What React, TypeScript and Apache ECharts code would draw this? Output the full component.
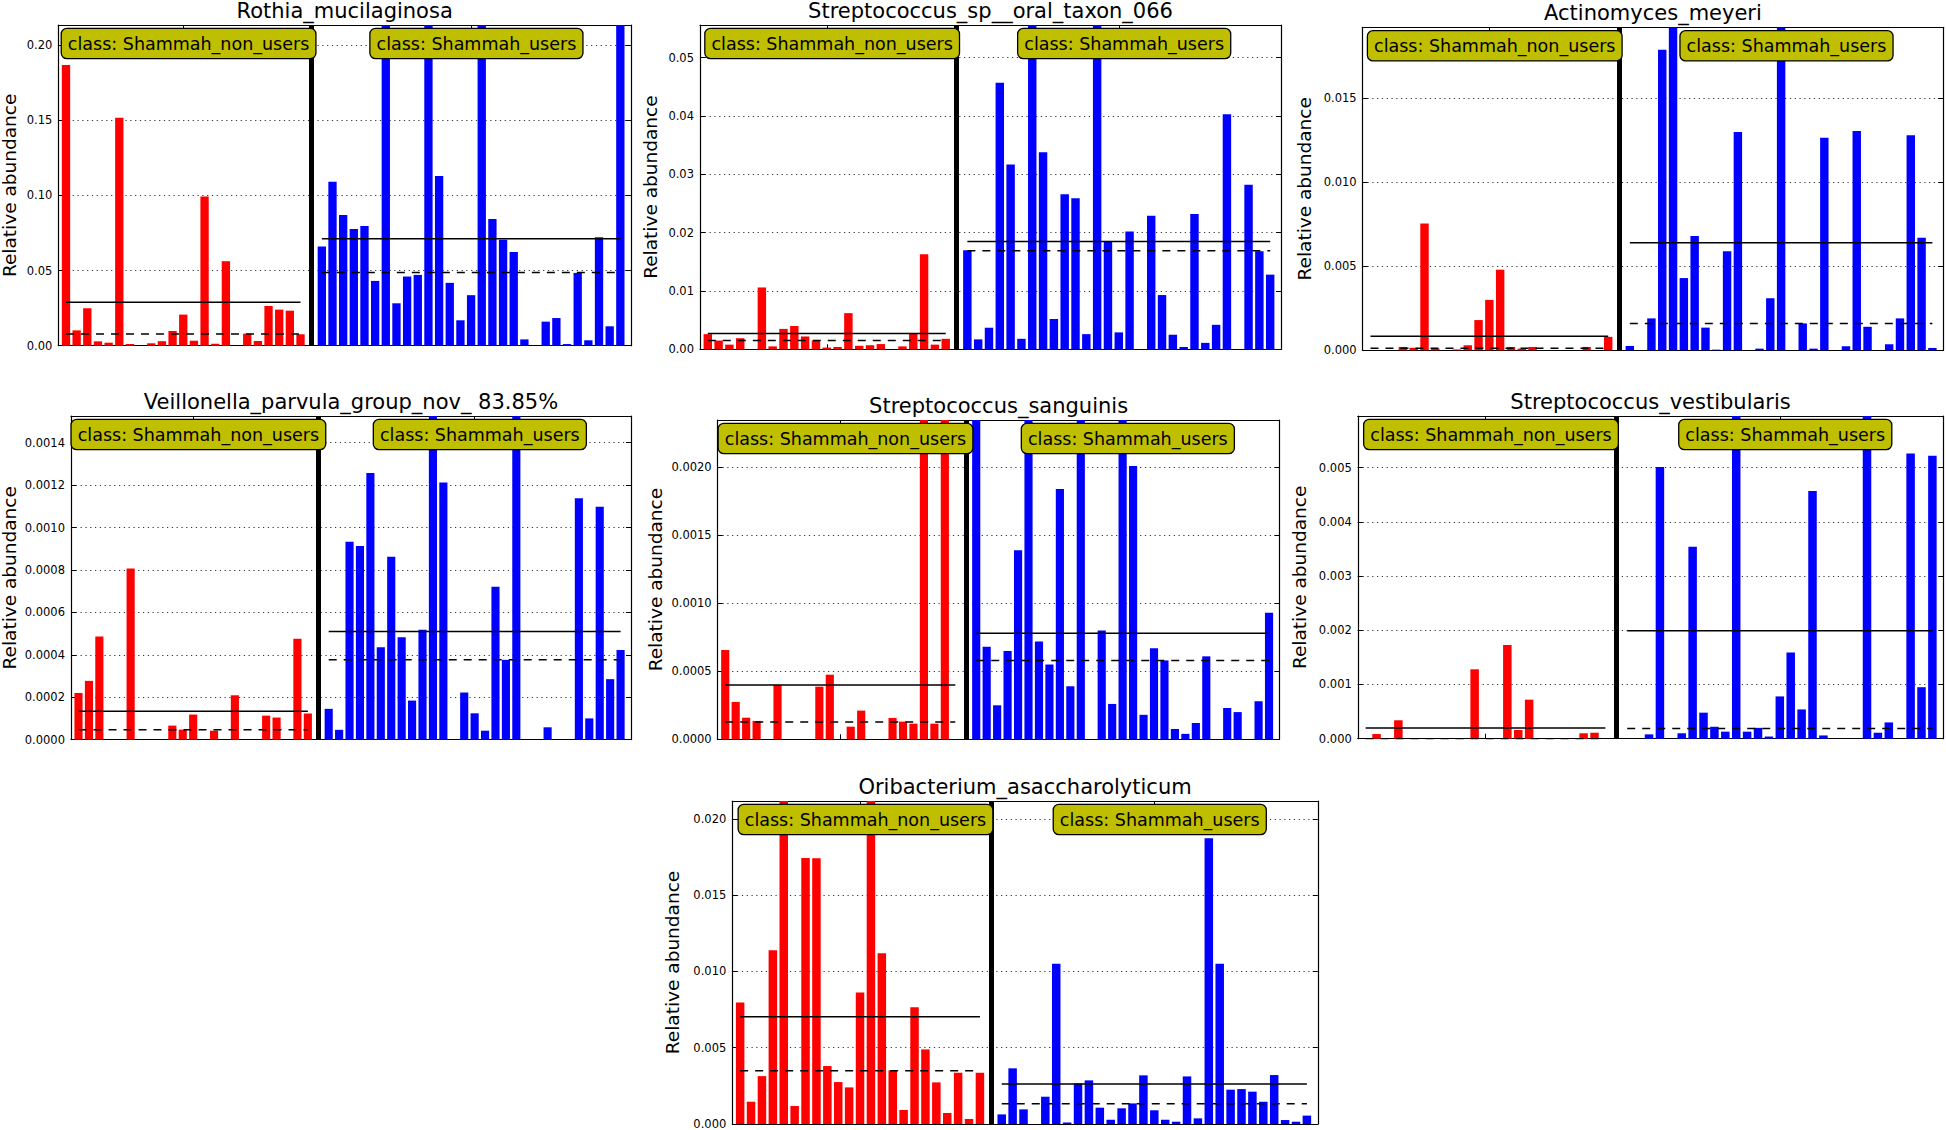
import React, { useEffect, useRef } from 'react';
import * as echarts from 'echarts';

// ---------- data ----------
const titles = [
  'Rothia_mucilaginosa',
  'Streptococcus_sp__oral_taxon_066',
  'Actinomyces_meyeri',
  'Veillonella_parvula_group_nov_ 83.85%',
  'Streptococcus_sanguinis',
  'Streptococcus_vestibularis',
  'Oribacterium_asaccharolyticum',
];
const classLabels = ['class: Shammah_non_users', 'class: Shammah_users'];

const nonUsers1 = [0.1867, 0.0102, 0.0249, 0.0029, 0.002, 0.1516, 0.0011, 0, 0.0016, 0.003, 0.0098, 0.0207, 0.0033, 0.0993, 0.0013, 0.0562, 0, 0.008, 0.0031, 0.0264, 0.024, 0.0233, 0.0076];
const users1 = [0.066, 0.1091, 0.0869, 0.0776, 0.0796, 0.0431, 0.24, 0.0282, 0.046, 0.0471, 0.22, 0.1129, 0.0418, 0.0169, 0.0336, 0.23, 0.0842, 0.0704, 0.0624, 0.0042, 0, 0.016, 0.0184, 0.0011, 0.0484, 0.0036, 0.0722, 0.0129, 0.23];
const stats1 = [0.0289, 0.0078, 0.0711, 0.0487];

const nonUsers2 = [0.0026, 0.0015, 0.0008, 0.0019, 0, 0.0106, 0.0005, 0.0035, 0.004, 0.0022, 0.0015, 0.0003, 0.0004, 0.0062, 0.0006, 0.0007, 0.0009, 0, 0.0005, 0.0027, 0.0163, 0.0008, 0.0018];
const users2 = [0.017, 0.0017, 0.0037, 0.0457, 0.0317, 0.0018, 0.065, 0.0338, 0.0052, 0.0266, 0.0259, 0.0026, 0.062, 0.0184, 0.0029, 0.0202, 0, 0.0229, 0.0093, 0.0025, 0.0004, 0.0232, 0.0011, 0.0042, 0.0403, 0, 0.0282, 0.0168, 0.0128];
const stats2 = [0.0027, 0.0015, 0.0185, 0.0169];

const nonUsers3 = [0, 0, 0, 0.0002, 0.00015, 0.00755, 0.0001, 0, 0.00005, 0.0003, 0.0018, 0.003, 0.0048, 0.0002, 0.0001, 0.0002, 0, 0, 0, 0, 0.0002, 0, 0.0008];
const users3 = [0.00026, 0, 0.0019, 0.0179, 0.021, 0.0043, 0.0068, 0.00135, 0.00004, 0.0059, 0.013, 0, 0.0001, 0.0031, 0.021, 0, 0.0016, 0.0001, 0.01265, 0, 0.00024, 0.01305, 0.0014, 0, 0.00036, 0.0019, 0.0128, 0.0067, 0.00014];
const stats3 = [0.00083, 0.00012, 0.0064, 0.0016];

const nonUsers4 = [0.00022, 0.000277, 0.000486, 0, 0, 0.000807, 0, 0, 0, 0.000066, 0.000047, 0.000118, 0, 0.000042, 0, 0.000209, 0, 0, 0.000113, 0.000104, 0, 0.000475, 0.000123];
const users4 = [0.000145, 0.000046, 0.000933, 0.000913, 0.001257, 0.000436, 0.000862, 0.000483, 0.000184, 0.000518, 0.0017, 0.001212, 0, 0.000222, 0.000124, 0.000042, 0.000721, 0.000376, 0.0016, 0, 0, 0.000058, 0, 0, 0.001138, 0.0001, 0.001098, 0.000285, 0.000423];
const stats4 = [0.000134, 0.000047, 0.00051, 0.000376];

const nonUsers5 = [0.000657, 0.000275, 0.000159, 0.000135, 0, 0.0004, 0, 0, 0, 0.000387, 0.000475, 0, 0.000093, 0.000211, 0, 0, 0.000157, 0.00013, 0.000115, 0.003, 0.000115, 0.0028, 0];
const users5 = [0.0026, 0.00068, 0.00025, 0.00065, 0.00139, 0.0025, 0.00072, 0.00055, 0.00184, 0.00039, 0.0024, 0, 0.0008, 0.00026, 0.0025, 0.00201, 0.00018, 0.00067, 0.00058, 0.000076, 0.00004, 0.00012, 0.00061, 0, 0.00023, 0.0002, 0, 0.00028, 0.00093];
const stats5 = [0.0004, 0.000127, 0.00078, 0.00058];

const nonUsers6 = [0, 0.000086, 0, 0.00034, 0, 0, 0, 0, 0, 0, 0.00128, 0, 0, 0.00173, 0.00016, 0.00072, 0, 0, 0, 0, 0.0001, 0.00011, 0];
const users6 = [0, 0, 0.00008, 0.00501, 0, 0.0001, 0.00354, 0.00048, 0.00022, 0.00013, 0.0065, 0.00013, 0.0002, 0.00004, 0.00078, 0.00159, 0.00054, 0.00457, 0.00006, 0, 0, 0, 0.007, 0.00011, 0.0003, 0, 0.00526, 0.00095, 0.00522];
const stats6 = [0.000197, 0, 0.00199, 0.00019];

const nonUsers7 = [0.00797, 0.00146, 0.00314, 0.0114, 0.024, 0.00118, 0.01745, 0.01742, 0.0038, 0.00275, 0.0024, 0.00862, 0.023, 0.0112, 0.00352, 0.00092, 0.00766, 0.00489, 0.00273, 0.00072, 0.00336, 0.00033, 0.00336];
const users7 = [0.00063, 0.00365, 0.00096, 0, 0.00179, 0.0105, 0.0001, 0.00266, 0.00286, 0.00107, 0.00028, 0.00103, 0.00135, 0.00319, 0.0009, 0.00028, 0.00015, 0.00312, 0.00037, 0.01873, 0.0105, 0.00225, 0.00229, 0.00212, 0.00146, 0.00321, 0.00026, 0.00015, 0.00055];
const stats7 = [0.00703, 0.00349, 0.00262, 0.00133];

const yMaxes = [0.2133, 0.0556, 0.01923, 0.001526, 0.002348, 0.005952, 0.02118];
const yIntervals = [0.05, 0.01, 0.005, 0.0002, 0.0005, 0.001, 0.005];
const yDecimals = [2, 2, 3, 4, 4, 3, 3];

const nonUsersAll = [nonUsers1, nonUsers2, nonUsers3, nonUsers4, nonUsers5, nonUsers6, nonUsers7];
const usersAll = [users1, users2, users3, users4, users5, users6, users7];
const statsAll = [stats1, stats2, stats3, stats4, stats5, stats6, stats7];

// ---------- layout (pixels) ----------
const layouts = [
  { left: 58.3, top: 25, width: 572.7, height: 320.7, nameGap: 39 },
  { left: 700, top: 25, width: 581, height: 324.3, nameGap: 40 },
  { left: 1362.7, top: 27.3, width: 580.5, height: 323, nameGap: 48.7 },
  { left: 71, top: 416, width: 560, height: 323.6, nameGap: 52 },
  { left: 717.7, top: 420, width: 561.8, height: 319.3, nameGap: 53 },
  { left: 1357.8, top: 416, width: 585.5, height: 322.7, nameGap: 48.7 },
  { left: 732.3, top: 801, width: 585.5, height: 323, nameGap: 50 },
];

const FONT = 'DejaVu Sans';
const XMIN = -0.72;
const XMAX = 53.0;

function titleGraphics() {
  return layouts.map((L, i) => ({
    type: 'text', id: 'title-' + i, x: L.left + L.width / 2, y: L.top - 14, z: 20,
    style: {
      text: titles[i], fontSize: 21, fontFamily: FONT, fill: '#000',
      align: 'center', verticalAlign: 'middle', textAlign: 'center', textVerticalAlign: 'middle',
    },
  }));
}

function buildOption() {
  const grid: any[] = [];
  const xAxis: any[] = [];
  const yAxis: any[] = [];
  const series: any[] = [];

  layouts.forEach((L, i) => {
    const nu = nonUsersAll[i];
    const us = usersAll[i];
    const st = statsAll[i];
    const n1 = nu.length;
    const sepX = n1;
    const uStart = n1 + 1;
    const uEnd = n1 + us.length;
    const step = L.width / (XMAX - XMIN);
    const dec = yDecimals[i];

    grid.push({ left: L.left, top: L.top, width: L.width, height: L.height, show: false, containLabel: false, outerBoundsMode: 'none' });

    const xCommon = {
      type: 'value', gridIndex: i, min: XMIN, max: XMAX,
      axisLine: { show: true, onZero: false, lineStyle: { color: '#000', width: 1.2 } },
      axisTick: { show: true, inside: true, length: 5, customValues: [11, 38], lineStyle: { color: '#000', width: 1 } },
      axisLabel: { show: false },
      splitLine: { show: false },
    };
    xAxis.push({ ...xCommon, position: 'bottom' });
    xAxis.push({ ...xCommon, position: 'top' });

    const yCommon = {
      type: 'value', gridIndex: i, min: 0, max: yMaxes[i], interval: yIntervals[i],
      axisLine: { show: true, onZero: false, lineStyle: { color: '#000', width: 1.2 } },
      axisTick: { show: true, inside: true, length: 5, lineStyle: { color: '#000', width: 1 } },
    };
    yAxis.push({
      ...yCommon, position: 'left',
      name: 'Relative abundance', nameLocation: 'middle', nameGap: L.nameGap,
      nameTextStyle: { fontSize: 18.5, fontFamily: FONT, color: '#000' },
      axisLabel: {
        show: true, margin: 6, fontSize: 11.5, fontFamily: FONT, color: '#000',
        showMaxLabel: false,
        formatter: (v: number) => v.toFixed(dec),
      },
      splitLine: { show: true, lineStyle: { color: '#333', width: 1, type: [1.2, 3.6] } },
    });
    yAxis.push({
      ...yCommon, position: 'right',
      axisLabel: { show: false },
      splitLine: { show: false },
    });

    const barData: any[] = [];
    nu.forEach((v, k) => barData.push({ value: [k, v], itemStyle: { color: '#ff0000' } }));
    us.forEach((v, k) => barData.push({ value: [uStart + k, v], itemStyle: { color: '#0000ff' } }));

    series.push({
      type: 'bar', xAxisIndex: 2 * i, yAxisIndex: 2 * i,
      data: barData, barWidth: 0.78 * step, clip: true, z: 2,
      markLine: {
        silent: true, symbol: ['none', 'none'], label: { show: false },
        lineStyle: { color: '#000', width: 5, type: 'solid' },
        data: [{ xAxis: sepX }],
        z: 4,
      },
    });

    const lineSeries = (x0: number, x1: number, v: number, dashed: boolean) => ({
      type: 'line', xAxisIndex: 2 * i, yAxisIndex: 2 * i,
      data: [[x0, v], [x1, v]], symbol: 'none', showSymbol: false, z: 3, silent: true,
      lineStyle: { color: '#000', width: 1.5, type: dashed ? [8, 7] : 'solid' },
    });
    series.push(lineSeries(0, n1 - 1, st[0], false));
    series.push(lineSeries(0, n1 - 1, st[1], true));
    series.push(lineSeries(uStart, uEnd, st[2], false));
    series.push(lineSeries(uStart, uEnd, st[3], true));
  });

  return {
    animation: false,
    backgroundColor: '#ffffff',
    textStyle: { fontFamily: FONT },
    grid, xAxis, yAxis, series,
    graphic: titleGraphics(),
  };
}

function labelGraphics(chart: any) {
  const out: any[] = [];
  layouts.forEach((L, i) => {
    const n1 = nonUsersAll[i].length;
    const uStart = n1 + 1;
    const uEnd = n1 + usersAll[i].length;
    const centers = [(n1 - 1) / 2 + 0.5, (uStart + uEnd) / 2 + 0.5];
    centers.forEach((cx, j) => {
      const p = chart.convertToPixel({ xAxisIndex: 2 * i, yAxisIndex: 2 * i }, [cx, yMaxes[i]]);
      out.push({
        type: 'text', id: 'lab-' + i + '-' + j, x: p[0], y: p[1] + 4, z: 100,
        style: {
          text: classLabels[j], fontSize: 17.5, fontFamily: FONT, fill: '#000', lineHeight: 21,
          align: 'center', verticalAlign: 'top', textAlign: 'center', textVerticalAlign: 'top',
          backgroundColor: '#bfbf00', borderColor: '#000', borderWidth: 1.3, borderRadius: 5,
          padding: [4, 6, 4, 6],
        },
      });
    });
  });
  return out;
}

export default function App() {
  const ref = useRef<HTMLDivElement>(null);
  useEffect(() => {
    if (!ref.current) return;
    const chart = echarts.init(ref.current, null, { renderer: 'svg' });
    chart.setOption(buildOption() as any);
    chart.setOption({ graphic: [...titleGraphics(), ...labelGraphics(chart)] } as any);
    return () => chart.dispose();
  }, []);
  return (
    <div
      ref={ref}
      style={{ position: 'fixed', left: 0, top: 0, width: 1946, height: 1130, background: '#fff' }}
    />
  );
}
